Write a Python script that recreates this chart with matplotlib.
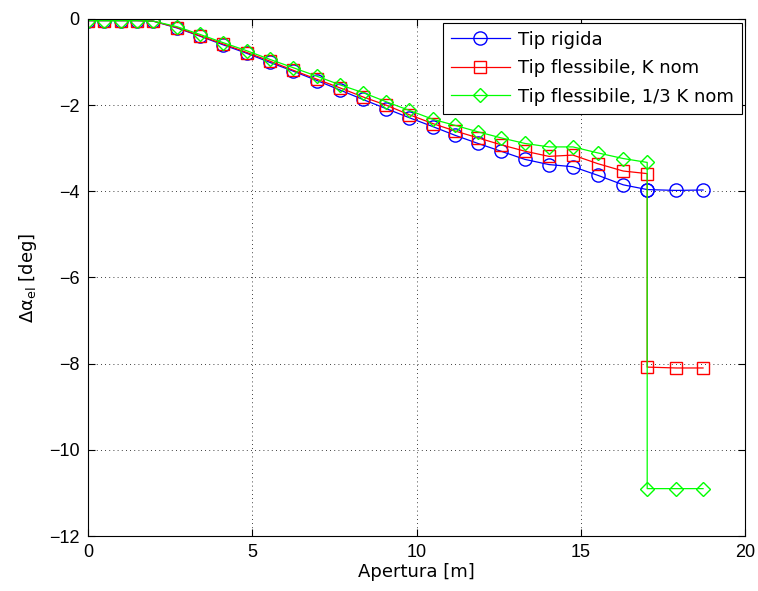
import numpy as np
import matplotlib.pyplot as plt

plt.rcParams.update({'font.size': 13,
                     'font.family': 'Liberation Sans',
                     'mathtext.default': 'regular'})

# Apertura [m]
x = [0.0, 0.5, 1.0, 1.49, 1.98, 2.71, 3.41, 4.11, 4.84, 5.54, 6.24, 6.97,
     7.67, 8.37, 9.07, 9.77, 10.5, 11.17, 11.87, 12.57, 13.3, 14.03, 14.76,
     15.52, 16.29, 17.02, 17.02, 17.9, 18.72]

# Tip rigida
y_rig = [-0.04, -0.04, -0.04, -0.04, -0.05, -0.21, -0.40, -0.60, -0.80,
         -1.01, -1.21, -1.43, -1.65, -1.87, -2.08, -2.29, -2.50, -2.70,
         -2.89, -3.07, -3.26, -3.38, -3.43, -3.63, -3.85, -3.96, -3.96,
         -3.98, -3.97]

# Tip flessibile, K nom
y_k = [-0.04, -0.04, -0.04, -0.04, -0.05, -0.20, -0.39, -0.58, -0.78,
       -0.98, -1.19, -1.40, -1.60, -1.81, -2.00, -2.22, -2.43, -2.60,
       -2.76, -2.92, -3.07, -3.19, -3.16, -3.36, -3.53, -3.59, -8.08,
       -8.10, -8.10]

# Tip flessibile, 1/3 K nom
y_k3 = [-0.04, -0.04, -0.04, -0.04, -0.05, -0.18, -0.36, -0.55, -0.74,
        -0.94, -1.13, -1.33, -1.53, -1.71, -1.92, -2.12, -2.33, -2.47,
        -2.62, -2.76, -2.89, -2.97, -2.97, -3.11, -3.24, -3.33, -10.90,
        -10.90, -10.90]

fig = plt.figure(figsize=(7.58, 5.91), dpi=100)
ax = fig.add_axes([0.116, 0.093, 0.867, 0.875])

ax.plot(x, y_rig, '-o', color='#0000ff', mfc='none', ms=9.5, lw=0.9, mew=1.0,
        label='Tip rigida')
ax.plot(x, y_k, '-s', color='#ff0000', mfc='none', ms=8.5, lw=0.9, mew=1.0,
        label='Tip flessibile, K nom')
ax.plot(x, y_k3, '-D', color='#00ff00', mfc='none', ms=7.5, lw=0.9, mew=1.0,
        label='Tip flessibile, 1/3 K nom')

ax.set_xlim(0, 20)
ax.set_ylim(-12, 0)
ax.set_xticks(np.arange(0, 21, 5))
ax.set_yticks(np.arange(-12, 1, 2))
ax.grid(True, color='k', linestyle=(0, (1, 4)), linewidth=0.6)
ax.tick_params(direction='in', top=True, right=True, length=5, width=0.8,
               pad=6)
for s in ax.spines.values():
    s.set_linewidth(0.8)

lab_font = {'family': 'DejaVu Sans', 'size': 13}
ax.set_xlabel('Apertura [m]', fontdict=lab_font, labelpad=1)
ax.set_ylabel('Δα$_{el}$ [deg]', fontdict=lab_font, labelpad=7)

leg = ax.legend(loc='upper right', fancybox=False, framealpha=1,
                edgecolor='k', borderaxespad=0.2, handlelength=3.3,
                handletextpad=0.4, borderpad=0.45, labelspacing=0.58,
                prop={'family': 'DejaVu Sans', 'size': 13})
leg.get_frame().set_linewidth(0.8)

fig.savefig('out.png', dpi=100)
